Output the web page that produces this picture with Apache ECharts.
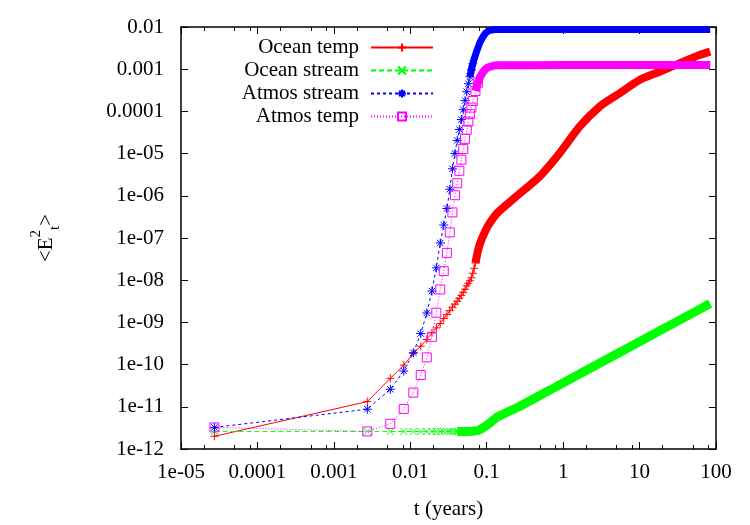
<!DOCTYPE html>
<html>
<head>
<meta charset="utf-8">
<script src="https://cdn.jsdelivr.net/npm/echarts@6/dist/echarts.min.js"></script>
<style>
  html, body { margin: 0; padding: 0; background: #fff; }
  #chart { width: 750px; height: 525px; }
</style>
</head>
<body>
<div id="chart"></div>
<script>
// tick labels, as gnuplot prints them
const xTickLabels = ['1e-05', '0.0001', '0.001', '0.01', '0.1', '1', '10', '100'];
const yTickLabels = ['1e-12', '1e-11', '1e-10', '1e-09', '1e-08', '1e-07', '1e-06',
                     '1e-05', '0.0001', '0.001', '0.01'];
const xMinorTicks = [2e-5, 5e-5, 8e-5, 2e-4, 5e-4, 8e-4, 2e-3, 5e-3, 8e-3, 0.02, 0.05, 0.08,
                     0.2, 0.5, 0.8, 2, 5, 8, 20, 50, 80];

const seriesNames = ['Ocean temp', 'Ocean stream', 'Atmos stream', 'Atmos temp'];

// [t (years), <E^2>] -- individual samples (markers)
const oceanTemp = [
  [2.74e-5, 2.0e-12], [0.00274, 1.33e-11], [0.00548, 4.73e-11], [0.00822, 9.75e-11],
  [0.01096, 1.84e-10], [0.0137, 2.73e-10], [0.01644, 3.93e-10], [0.01918, 5.65e-10],
  [0.02192, 7.41e-10], [0.02466, 9.37e-10], [0.0274, 1.23e-9], [0.03014, 1.53e-9],
  [0.03288, 1.90e-9], [0.03562, 2.30e-9], [0.03836, 2.70e-9], [0.0411, 3.18e-9],
  [0.04384, 3.74e-9], [0.04658, 4.40e-9], [0.04932, 5.18e-9], [0.05205, 6.10e-9],
  [0.05479, 7.38e-9], [0.05753, 8.45e-9], [0.06027, 9.68e-9], [0.06301, 1.14e-8],
  [0.06575, 1.46e-8], [0.06849, 1.91e-8], [0.07123, 2.57e-8], [0.07671, 4.93e-8],
  [0.08219, 7.62e-8]
];
// dense part, where the markers merge into a band
const oceanTempBand = [
  [0.07123, 2.57e-8], [0.07671, 4.93e-8], [0.08219, 7.62e-8], [0.09589, 1.46e-7],
  [0.1096, 2.26e-7], [0.137, 3.89e-7], [0.221, 8.3e-7], [0.498, 2.94e-6], [0.91, 1.05e-5],
  [1.66, 4.46e-5], [3.03, 1.32e-4], [5.54, 2.73e-4], [10.1, 5.62e-4], [18.5, 8.83e-4],
  [33.8, 1.39e-3], [61.8, 2.19e-3], [84, 2.62e-3]
];

const oceanStream = [
  [2.74e-5, 2.61e-12], [0.00274, 2.61e-12], [0.00548, 2.61e-12], [0.00822, 2.6e-12],
  [0.01096, 2.6e-12], [0.0137, 2.6e-12], [0.01644, 2.6e-12], [0.01918, 2.6e-12],
  [0.02192, 2.6e-12], [0.02466, 2.6e-12], [0.0274, 2.6e-12], [0.03014, 2.6e-12],
  [0.03288, 2.6e-12], [0.03562, 2.6e-12], [0.03836, 2.6e-12], [0.0411, 2.6e-12]
];
const oceanStreamBand = [
  [0.0411, 2.6e-12], [0.05479, 2.6e-12], [0.06849, 2.65e-12], [0.08219, 2.9e-12],
  [0.1096, 4.1e-12], [0.137, 5.7e-12], [0.272, 1.03e-11], [0.91, 3.36e-11],
  [3.03, 1.09e-10], [10.1, 3.53e-10], [33.8, 1.15e-9], [84, 2.8e-9]
];

const atmosStream = [
  [2.74e-5, 3.25e-12], [0.00274, 8.77e-12], [0.00548, 2.60e-11], [0.00822, 7.03e-11],
  [0.01096, 1.91e-10], [0.0137, 5.44e-10], [0.01644, 1.67e-9], [0.01918, 5.53e-9],
  [0.02192, 1.96e-8], [0.02466, 7.62e-8], [0.0274, 2.03e-7], [0.03014, 5.01e-7],
  [0.03288, 1.43e-6], [0.03562, 4.36e-6], [0.03836, 1.01e-5], [0.0411, 2.05e-5],
  [0.04384, 3.72e-5], [0.04658, 6.41e-5], [0.04932, 1.10e-4], [0.05205, 1.80e-4],
  [0.05479, 2.93e-4], [0.05753, 4.53e-4], [0.06027, 6.62e-4], [0.06301, 9.68e-4],
  [0.06575, 1.34e-3]
];
const atmosStreamBand = [
  [0.06027, 6.62e-4], [0.06301, 9.68e-4], [0.06575, 1.34e-3], [0.07123, 2.19e-3],
  [0.07671, 3.20e-3], [0.08219, 4.43e-3], [0.09589, 7.03e-3], [0.1096, 8.26e-3],
  [0.137, 8.73e-3], [1, 8.75e-3], [10, 8.75e-3], [84, 8.75e-3]
];

const atmosTemp = [
  [2.74e-5, 3.25e-12], [0.00274, 2.61e-12], [0.00548, 3.95e-12], [0.00822, 8.91e-12],
  [0.01096, 2.17e-11], [0.0137, 5.65e-11], [0.01644, 1.48e-10], [0.01918, 4.55e-10],
  [0.02192, 1.70e-9], [0.02466, 6.04e-9], [0.0274, 1.64e-8], [0.03014, 4.43e-8],
  [0.03288, 1.36e-7], [0.03562, 4.04e-7], [0.03836, 1.03e-6], [0.0411, 1.98e-6],
  [0.04384, 3.91e-6], [0.04658, 7.18e-6], [0.04932, 1.28e-5], [0.05205, 2.24e-5],
  [0.05479, 3.66e-5], [0.05753, 5.74e-5], [0.06027, 8.73e-5], [0.06301, 1.23e-4],
  [0.06575, 1.77e-4], [0.07123, 3.04e-4], [0.07671, 4.78e-4]
];
const atmosTempBand = [
  [0.07123, 3.04e-4], [0.07671, 4.78e-4], [0.08219, 6.62e-4], [0.09589, 9.95e-4],
  [0.1096, 1.14e-3], [0.137, 1.24e-3], [1, 1.25e-3], [10, 1.25e-3], [84, 1.25e-3]
];

const FONT = 'Liberation Serif';

// gnuplot point types drawn as stroked paths
const plusPath  = 'path://M0,5L10,5M5,0L5,10';
const crossPath = 'path://M0,0L10,10M10,0L0,10';
const starPath  = 'path://M0,5L10,5M5,0L5,10M1.5,1.5L8.5,8.5M8.5,1.5L1.5,8.5';
const boxPath   = 'path://M0,0L10,0L10,10L0,10Z';

function pointSeries(name, data, color, symbol, size, dash) {
  return {
    name: name,
    type: 'line',
    data: data,
    symbol: symbol,
    symbolSize: size,
    showAllSymbol: true,
    itemStyle: { color: 'none', borderColor: color, borderWidth: 1 },
    lineStyle: { color: color, width: 1, type: dash },
    emphasis: { disabled: true },
    z: 3
  };
}

function bandSeries(name, data, color, width) {
  return {
    name: name,
    type: 'line',
    data: data,
    symbol: 'none',
    silent: true,
    smooth: 0.25,
    lineStyle: { color: color, width: width, cap: 'butt', join: 'round' },
    emphasis: { disabled: true },
    z: 3
  };
}

const logX = { type: 'log', logBase: 10, min: 1e-5, max: 100, splitNumber: 7 };
const logY = { type: 'log', logBase: 10, min: 1e-12, max: 0.01, splitNumber: 10 };
const blackLine = { show: true, onZero: false, lineStyle: { color: '#000', width: 1.5 } };

// minor ticks live on a plain axis that runs over log10(t)
const minorX = {
  type: 'value', min: -5, max: 2,
  axisLine: { show: false, onZero: false },
  axisTick: {
    inside: true, length: 4, lineStyle: { color: '#000' },
    customValues: xMinorTicks.map(v => Math.log10(v))
  },
  axisLabel: { show: false },
  splitLine: { show: false }
};

const chart = echarts.init(document.getElementById('chart'), null, { renderer: 'canvas' });

chart.setOption({
  animation: false,
  backgroundColor: '#fff',
  grid: { left: 181, right: 34, top: 27, bottom: 74 },
  legend: {
    data: seriesNames,
    orient: 'vertical',
    align: 'right',
    right: 316,
    top: 37,
    padding: 0,
    itemWidth: 62,
    itemHeight: 10,
    itemGap: 2,
    textStyle: { fontFamily: FONT, fontSize: 21, color: '#000', padding: [0, 7, 0, 0] }
  },
  xAxis: [
    Object.assign({}, logX, {
      position: 'bottom',
      name: 't (years)',
      nameLocation: 'middle',
      nameGap: 50,
      nameTextStyle: { fontFamily: FONT, fontSize: 21, color: '#000' },
      axisLine: blackLine,
      axisTick: { inside: true, length: 7, lineStyle: { color: '#000' } },
      axisLabel: {
        fontFamily: FONT, fontSize: 21, color: '#000', margin: 13,
        formatter: v => xTickLabels[Math.round(Math.log10(v)) + 5]
      },
      splitLine: { show: false }
    }),
    Object.assign({}, minorX, { position: 'bottom' }),
    Object.assign({}, logX, {
      position: 'top',
      axisLine: blackLine,
      axisTick: { inside: true, length: 7, lineStyle: { color: '#000' } },
      axisLabel: { show: false },
      splitLine: { show: false }
    }),
    Object.assign({}, minorX, { position: 'top' })
  ],
  yAxis: [
    Object.assign({}, logY, {
      position: 'left',
      name: '{m|<E}{sup|2}{sub|t}{m|>}',
      nameLocation: 'middle',
      nameRotate: 90,
      nameGap: 118,
      nameTextStyle: {
        fontFamily: FONT, fontSize: 21, color: '#000',
        rich: {
          m:   { fontFamily: FONT, fontSize: 21, color: '#000', lineHeight: 34 },
          sup: { fontFamily: FONT, fontSize: 15, color: '#000', verticalAlign: 'top' },
          sub: { fontFamily: FONT, fontSize: 15, color: '#000', verticalAlign: 'bottom' }
        }
      },
      axisLine: blackLine,
      axisTick: { inside: true, length: 7, lineStyle: { color: '#000' } },
      axisLabel: {
        fontFamily: FONT, fontSize: 21, color: '#000', margin: 17,
        formatter: v => yTickLabels[Math.round(Math.log10(v)) + 12]
      },
      splitLine: { show: false }
    }),
    Object.assign({}, logY, {
      position: 'right',
      axisLine: blackLine,
      axisTick: { inside: true, length: 7, lineStyle: { color: '#000' } },
      axisLabel: { show: false },
      splitLine: { show: false }
    })
  ],
  series: [
    pointSeries('Ocean temp', oceanTemp, '#ff0000', plusPath, 8, 'solid'),
    bandSeries('ocean temp band', oceanTempBand, '#ff0000', 8),
    pointSeries('Ocean stream', oceanStream, '#00ff00', crossPath, 7, [5, 3]),
    bandSeries('ocean stream band', oceanStreamBand, '#00ff00', 9),
    pointSeries('Atmos stream', atmosStream, '#0000ff', starPath, 9, [3, 3]),
    bandSeries('atmos stream band', atmosStreamBand, '#0000ff', 7),
    pointSeries('Atmos temp', atmosTemp, '#ff00ff', boxPath, 9, [1, 2]),
    bandSeries('atmos temp band', atmosTempBand, '#ff00ff', 8)
  ]
});
</script>
</body>
</html>
